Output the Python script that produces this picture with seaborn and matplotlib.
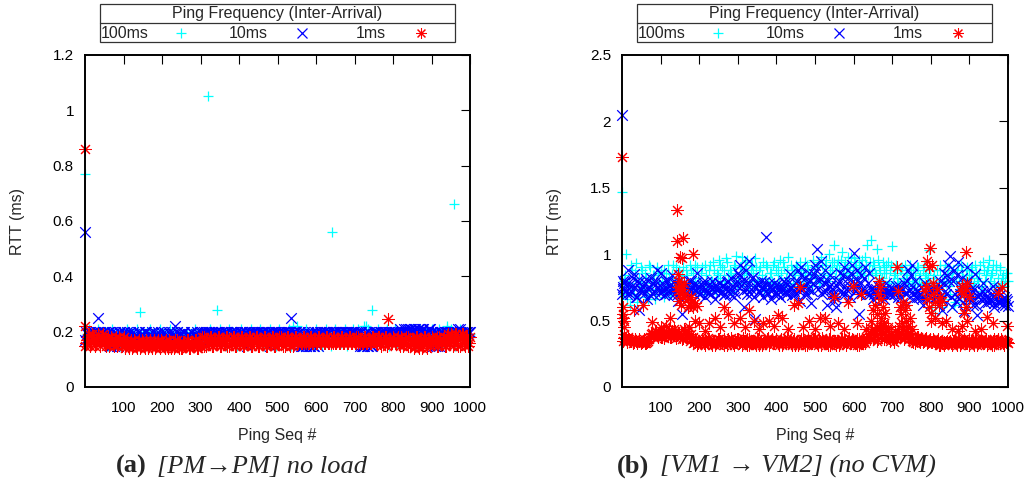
import matplotlib
matplotlib.use("Agg")
import matplotlib.pyplot as plt
import seaborn as sns
import pandas as pd
from matplotlib.lines import Line2D
from matplotlib.patches import Rectangle

# ---------------- data ----------------
seq = list(range(5, 1001, 5))      # sampled ping sequence numbers
seq_b = list(range(3, 1001, 5))    # second sample of sequence numbers
freq_labels = ["100ms", "10ms", "1ms"]

# Panel (a) [PM->PM] no load
a_100ms = [0.19, 0.21, 0.18, 0.20, 0.17, 0.19, 0.21, 0.16, 0.19, 0.18,
           0.20, 0.15, 0.19, 0.21, 0.18, 0.20, 0.17, 0.15, 0.20, 0.18,
           0.19, 0.21, 0.18, 0.20, 0.19, 0.17, 0.21, 0.18, 0.19, 0.20,
           0.18, 0.20, 0.19, 0.21, 0.17, 0.19, 0.20, 0.18, 0.21, 0.20,
           0.19, 0.18, 0.20, 0.21, 0.19, 0.18, 0.20, 0.19, 0.18, 0.20,
           0.19, 0.19, 0.20, 0.18, 0.19, 0.20, 0.21, 0.18, 0.19, 0.20,
           0.18, 0.20, 0.15, 0.19, 0.21, 0.18, 0.20, 0.16, 0.19, 0.21,
           0.20, 0.18, 0.15, 0.19, 0.21, 0.17, 0.20, 0.18, 0.15, 0.19,
           0.21, 0.18, 0.20, 0.15, 0.19, 0.21, 0.17, 0.20, 0.16, 0.19,
           0.21, 0.18, 0.15, 0.20, 0.19, 0.21, 0.17, 0.20, 0.15, 0.19,
           0.21, 0.18, 0.20, 0.16, 0.19, 0.21, 0.15, 0.20, 0.18, 0.22,
           0.19, 0.15, 0.20, 0.18, 0.21, 0.16, 0.19, 0.20, 0.15, 0.21,
           0.18, 0.20, 0.15, 0.19, 0.21, 0.17, 0.20, 0.15, 0.19, 0.21,
           0.18, 0.20, 0.16, 0.19, 0.21, 0.15, 0.20, 0.18, 0.21, 0.16,
           0.19, 0.21, 0.15, 0.20, 0.22, 0.18, 0.21, 0.16, 0.19, 0.20,
           0.15, 0.21, 0.18, 0.20, 0.16, 0.19, 0.21, 0.15, 0.20, 0.18,
           0.21, 0.16, 0.19, 0.20, 0.15, 0.21, 0.18, 0.20, 0.16, 0.21,
           0.19, 0.15, 0.20, 0.21, 0.18, 0.16, 0.20, 0.19, 0.15, 0.21,
           0.18, 0.20, 0.15, 0.21, 0.19, 0.16, 0.20, 0.22, 0.18, 0.21,
           0.19, 0.15, 0.20, 0.18, 0.21, 0.16, 0.19, 0.20, 0.17, 0.19]
a_10ms = [0.19, 0.20, 0.18, 0.20, 0.19, 0.20, 0.17, 0.20, 0.19, 0.20,
          0.19, 0.20, 0.15, 0.20, 0.15, 0.19, 0.15, 0.20, 0.19, 0.20,
          0.18, 0.20, 0.17, 0.19, 0.20, 0.18, 0.17, 0.20, 0.19, 0.18,
          0.20, 0.17, 0.19, 0.18, 0.20, 0.17, 0.19, 0.20, 0.18, 0.17,
          0.20, 0.18, 0.17, 0.19, 0.20, 0.18, 0.17, 0.20, 0.19, 0.17,
          0.20, 0.18, 0.17, 0.19, 0.20, 0.17, 0.18, 0.20, 0.19, 0.17,
          0.20, 0.19, 0.20, 0.20, 0.19, 0.20, 0.19, 0.20, 0.20, 0.19,
          0.20, 0.19, 0.20, 0.20, 0.19, 0.20, 0.20, 0.19, 0.20, 0.19,
          0.20, 0.19, 0.20, 0.15, 0.20, 0.19, 0.20, 0.20, 0.19, 0.20,
          0.19, 0.20, 0.20, 0.19, 0.20, 0.15, 0.20, 0.19, 0.20, 0.20,
          0.19, 0.20, 0.20, 0.19, 0.20, 0.20, 0.19, 0.20, 0.20, 0.19,
          0.20, 0.15, 0.15, 0.20, 0.15, 0.19, 0.15, 0.20, 0.15, 0.19,
          0.15, 0.20, 0.19, 0.20, 0.20, 0.19, 0.20, 0.19, 0.20, 0.20,
          0.19, 0.20, 0.20, 0.19, 0.20, 0.20, 0.19, 0.20, 0.20, 0.19,
          0.20, 0.19, 0.20, 0.15, 0.15, 0.20, 0.15, 0.19, 0.15, 0.20,
          0.20, 0.19, 0.20, 0.20, 0.19, 0.20, 0.19, 0.20, 0.20, 0.19,
          0.20, 0.19, 0.20, 0.20, 0.19, 0.20, 0.21, 0.20, 0.21, 0.20,
          0.21, 0.20, 0.21, 0.19, 0.21, 0.20, 0.19, 0.20, 0.21, 0.20,
          0.19, 0.15, 0.20, 0.15, 0.20, 0.19, 0.20, 0.20, 0.19, 0.20,
          0.20, 0.19, 0.20, 0.21, 0.20, 0.19, 0.20, 0.20, 0.19, 0.20]
a_10ms_2 = [0.20, 0.19, 0.20, 0.18, 0.20, 0.19, 0.20, 0.19, 0.18, 0.20,
            0.20, 0.19, 0.20, 0.15, 0.19, 0.20, 0.15, 0.20, 0.18, 0.20,
            0.17, 0.19, 0.18, 0.20, 0.17, 0.19, 0.18, 0.20, 0.17, 0.19,
            0.18, 0.20, 0.17, 0.19, 0.18, 0.20, 0.17, 0.19, 0.18, 0.20,
            0.17, 0.19, 0.18, 0.20, 0.17, 0.19, 0.18, 0.20, 0.17, 0.19,
            0.18, 0.20, 0.17, 0.19, 0.18, 0.20, 0.17, 0.19, 0.18, 0.20,
            0.19, 0.20, 0.20, 0.19, 0.20, 0.20, 0.19, 0.20, 0.19, 0.20,
            0.20, 0.19, 0.20, 0.20, 0.19, 0.20, 0.19, 0.20, 0.20, 0.19,
            0.20, 0.20, 0.19, 0.20, 0.19, 0.20, 0.20, 0.19, 0.20, 0.20,
            0.19, 0.20, 0.20, 0.19, 0.20, 0.20, 0.19, 0.20, 0.20, 0.19,
            0.20, 0.19, 0.20, 0.20, 0.19, 0.20, 0.20, 0.19, 0.20, 0.20,
            0.15, 0.20, 0.15, 0.19, 0.15, 0.20, 0.15, 0.19, 0.15, 0.20,
            0.20, 0.19, 0.20, 0.20, 0.19, 0.20, 0.20, 0.19, 0.20, 0.20,
            0.20, 0.19, 0.20, 0.20, 0.19, 0.20, 0.20, 0.19, 0.20, 0.20,
            0.19, 0.20, 0.15, 0.20, 0.15, 0.19, 0.15, 0.20, 0.15, 0.19,
            0.20, 0.20, 0.19, 0.20, 0.20, 0.19, 0.20, 0.20, 0.19, 0.20,
            0.20, 0.20, 0.19, 0.21, 0.20, 0.21, 0.20, 0.21, 0.20, 0.21,
            0.20, 0.21, 0.20, 0.21, 0.20, 0.21, 0.20, 0.20, 0.21, 0.20,
            0.15, 0.20, 0.15, 0.19, 0.20, 0.20, 0.19, 0.20, 0.20, 0.19,
            0.20, 0.20, 0.19, 0.20, 0.21, 0.20, 0.19, 0.20, 0.20, 0.20]
a_1ms = [0.17, 0.19, 0.16, 0.18, 0.15, 0.17, 0.19, 0.16, 0.18, 0.17,
         0.15, 0.18, 0.16, 0.17, 0.15, 0.18, 0.16, 0.17, 0.15, 0.18,
         0.15, 0.16, 0.14, 0.17, 0.15, 0.16, 0.14, 0.17, 0.15, 0.16,
         0.14, 0.16, 0.15, 0.17, 0.14, 0.16, 0.15, 0.17, 0.14, 0.16,
         0.15, 0.17, 0.14, 0.16, 0.15, 0.14, 0.17, 0.15, 0.16, 0.14,
         0.16, 0.15, 0.17, 0.14, 0.16, 0.15, 0.17, 0.14, 0.16, 0.15,
         0.18, 0.15, 0.17, 0.16, 0.18, 0.15, 0.17, 0.16, 0.18, 0.15,
         0.17, 0.16, 0.18, 0.15, 0.17, 0.16, 0.18, 0.15, 0.17, 0.16,
         0.18, 0.15, 0.17, 0.16, 0.18, 0.15, 0.17, 0.16, 0.18, 0.15,
         0.17, 0.16, 0.18, 0.15, 0.17, 0.16, 0.18, 0.15, 0.17, 0.16,
         0.18, 0.16, 0.17, 0.15, 0.18, 0.16, 0.17, 0.15, 0.18, 0.16,
         0.17, 0.16, 0.18, 0.16, 0.17, 0.16, 0.18, 0.16, 0.17, 0.16,
         0.18, 0.16, 0.17, 0.16, 0.18, 0.16, 0.17, 0.16, 0.18, 0.16,
         0.17, 0.16, 0.18, 0.16, 0.17, 0.16, 0.18, 0.16, 0.17, 0.16,
         0.18, 0.16, 0.17, 0.16, 0.18, 0.16, 0.17, 0.16, 0.18, 0.17,
         0.16, 0.18, 0.16, 0.17, 0.16, 0.18, 0.15, 0.17, 0.16, 0.18,
         0.16, 0.17, 0.16, 0.18, 0.15, 0.17, 0.16, 0.18, 0.15, 0.17,
         0.14, 0.18, 0.15, 0.17, 0.14, 0.18, 0.16, 0.17, 0.15, 0.18,
         0.16, 0.17, 0.15, 0.18, 0.16, 0.17, 0.15, 0.18, 0.16, 0.19,
         0.15, 0.19, 0.16, 0.18, 0.15, 0.19, 0.16, 0.18, 0.15, 0.18]
a_1ms_2 = [0.16, 0.18, 0.15, 0.19, 0.17, 0.16, 0.18, 0.15, 0.17, 0.19,
           0.16, 0.17, 0.15, 0.18, 0.16, 0.17, 0.15, 0.18, 0.16, 0.17,
           0.14, 0.17, 0.15, 0.16, 0.14, 0.17, 0.15, 0.16, 0.14, 0.17,
           0.15, 0.17, 0.14, 0.16, 0.15, 0.17, 0.14, 0.16, 0.15, 0.17,
           0.16, 0.14, 0.15, 0.17, 0.14, 0.16, 0.15, 0.17, 0.14, 0.16,
           0.14, 0.16, 0.15, 0.17, 0.14, 0.16, 0.15, 0.17, 0.14, 0.16,
           0.16, 0.18, 0.15, 0.17, 0.16, 0.18, 0.15, 0.17, 0.16, 0.18,
           0.15, 0.17, 0.16, 0.18, 0.15, 0.17, 0.16, 0.18, 0.15, 0.17,
           0.16, 0.18, 0.15, 0.17, 0.16, 0.18, 0.15, 0.17, 0.16, 0.18,
           0.15, 0.17, 0.16, 0.18, 0.15, 0.17, 0.16, 0.18, 0.15, 0.17,
           0.16, 0.18, 0.15, 0.17, 0.16, 0.18, 0.15, 0.17, 0.16, 0.18,
           0.16, 0.17, 0.16, 0.18, 0.16, 0.17, 0.16, 0.18, 0.16, 0.17,
           0.16, 0.18, 0.16, 0.17, 0.16, 0.18, 0.16, 0.17, 0.16, 0.18,
           0.16, 0.17, 0.16, 0.18, 0.16, 0.17, 0.16, 0.18, 0.16, 0.17,
           0.16, 0.18, 0.16, 0.17, 0.16, 0.18, 0.16, 0.17, 0.16, 0.18,
           0.17, 0.16, 0.18, 0.15, 0.17, 0.16, 0.18, 0.16, 0.17, 0.16,
           0.17, 0.16, 0.18, 0.15, 0.17, 0.16, 0.18, 0.15, 0.17, 0.16,
           0.17, 0.15, 0.18, 0.14, 0.17, 0.15, 0.18, 0.14, 0.17, 0.16,
           0.17, 0.16, 0.18, 0.15, 0.17, 0.16, 0.18, 0.15, 0.19, 0.16,
           0.18, 0.16, 0.19, 0.15, 0.18, 0.16, 0.19, 0.15, 0.18, 0.16]
a_100ms_out_seq = [1, 143, 260, 319, 343, 540, 641, 730, 745, 940, 958]
a_100ms_out_rtt = [0.77, 0.27, 0.19, 1.05, 0.28, 0.22, 0.56, 0.22, 0.28, 0.21, 0.66]
a_10ms_out_seq = [1, 1, 34, 235, 535]
a_10ms_out_rtt = [0.56, 0.17, 0.25, 0.22, 0.25]
a_1ms_out_seq = [1, 1, 1, 787]
a_1ms_out_rtt = [0.86, 0.22, 0.15, 0.245]

# Panel (b) [VM1 -> VM2] (no CVM)
b_100ms = [0.80, 1.00, 0.75, 0.62, 0.88, 0.70, 0.93, 0.64, 0.82, 0.90,
           0.76, 0.86, 0.68, 0.92, 0.74, 0.84, 0.66, 0.90, 0.78, 0.86,
           0.72, 0.88, 0.80, 0.92, 0.70, 0.85, 0.76, 0.90, 0.82, 0.74,
           0.84, 0.70, 0.88, 0.78, 0.92, 0.74, 0.86, 0.80, 0.90, 0.72,
           0.86, 0.76, 0.92, 0.72, 0.88, 0.80, 0.94, 0.74, 0.86, 0.96,
           0.82, 0.90, 0.76, 0.97, 0.84, 0.88, 0.72, 0.92, 0.99, 0.80,
           0.90, 0.98, 0.84, 0.88, 0.96, 0.76, 0.92, 0.86, 0.97, 0.80,
           0.88, 0.76, 0.94, 0.82, 0.90, 0.74, 0.86, 0.92, 0.78, 0.88,
           0.84, 0.96, 0.74, 0.90, 0.82, 0.98, 0.76, 0.88, 0.86, 0.92,
           0.80, 0.94, 0.76, 0.88, 0.84, 0.92, 0.72, 0.86, 0.96, 0.82,
           0.90, 0.78, 0.98, 0.84, 0.92, 0.80, 1.00, 0.86, 0.94, 1.07,
           0.88, 0.96, 0.82, 1.02, 0.90, 0.86, 0.98, 0.92, 0.84, 0.97,
           0.90, 0.86, 0.96, 0.92, 0.84, 0.98, 1.07, 0.88, 1.11, 0.94,
           0.86, 1.04, 0.90, 0.80, 0.94, 0.86, 0.92, 0.76, 0.88, 1.06,
           0.84, 0.92, 0.78, 0.88, 0.90, 0.82, 0.86, 0.76, 0.92, 0.80,
           0.86, 0.74, 0.90, 0.82, 0.78, 0.88, 0.84, 0.80, 1.03, 0.76,
           0.82, 0.56, 0.88, 0.74, 0.92, 0.60, 0.84, 0.78, 0.90, 0.70,
           0.86, 0.62, 0.80, 0.92, 0.74, 0.88, 0.68, 0.84, 0.90, 0.78,
           0.88, 0.76, 0.92, 0.82, 0.86, 0.72, 0.94, 0.80, 0.88, 0.96,
           0.84, 0.92, 0.78, 0.88, 0.74, 0.90, 0.82, 0.76, 0.86, 0.80]
b_100ms_2 = [0.70, 0.84, 0.66, 0.78, 0.92, 0.74, 0.86, 0.68, 0.80, 0.76,
             0.88, 0.72, 0.82, 0.66, 0.90, 0.78, 0.84, 0.70, 0.86, 0.74,
             0.80, 0.68, 0.86, 0.76, 0.82, 0.70, 0.92, 0.78, 0.74, 0.88,
             0.76, 0.90, 0.72, 0.84, 0.70, 0.88, 0.78, 0.92, 0.74, 0.82,
             0.78, 0.90, 0.70, 0.84, 0.76, 0.92, 0.80, 0.88, 0.72, 0.84,
             0.92, 0.76, 0.88, 0.80, 0.94, 0.78, 0.86, 0.82, 0.90, 0.76,
             0.82, 0.90, 0.78, 0.94, 0.86, 0.80, 0.88, 0.92, 0.76, 0.90,
             0.80, 0.90, 0.84, 0.72, 0.92, 0.78, 0.86, 0.80, 0.94, 0.76,
             0.90, 0.78, 0.86, 0.94, 0.76, 0.88, 0.82, 0.92, 0.78, 0.84,
             0.90, 0.76, 0.86, 0.80, 0.94, 0.78, 0.88, 0.82, 0.76, 0.90,
             0.84, 0.94, 0.80, 0.92, 0.86, 0.96, 0.82, 0.90, 0.88, 0.94,
             0.82, 0.92, 0.88, 0.96, 0.84, 0.94, 0.90, 0.86, 0.98, 0.88,
             0.94, 0.82, 0.90, 0.86, 0.96, 0.88, 0.92, 0.84, 0.94, 0.88,
             0.92, 0.84, 0.96, 0.88, 0.82, 0.90, 0.86, 0.94, 0.80, 0.92,
             0.78, 0.86, 0.82, 0.74, 0.88, 0.80, 0.92, 0.84, 0.78, 0.88,
             0.80, 0.86, 0.78, 0.90, 0.84, 0.76, 0.92, 0.86, 0.82, 0.88,
             0.60, 0.84, 0.78, 0.64, 0.88, 0.80, 0.66, 0.92, 0.84, 0.76,
             0.80, 0.88, 0.64, 0.86, 0.78, 0.92, 0.82, 0.74, 0.88, 0.84,
             0.82, 0.90, 0.78, 0.86, 0.80, 0.92, 0.76, 0.88, 0.84, 0.90,
             0.80, 0.86, 0.76, 0.92, 0.82, 0.88, 0.78, 0.84, 0.80, 0.86]
b_10ms = [0.78, 0.72, 0.88, 0.70, 0.76, 0.85, 0.68, 0.80, 0.58, 0.74,
          0.72, 0.78, 0.66, 0.75, 0.82, 0.70, 0.77, 0.88, 0.73, 0.86,
          0.74, 0.69, 0.80, 0.72, 0.76, 0.84, 0.70, 0.78, 0.65, 0.75,
          0.55, 0.72, 0.77, 0.68, 0.74, 0.80, 0.71, 0.76, 0.86, 0.70,
          0.74, 0.79, 0.68, 0.72, 0.77, 0.70, 0.75, 0.66, 0.73, 0.78,
          0.71, 0.76, 0.69, 0.74, 0.80, 0.70, 0.73, 0.68, 0.77, 0.86,
          0.92, 0.80, 0.60, 0.88, 0.74, 0.95, 0.70, 0.83, 0.51, 0.78,
          0.72, 0.80, 0.68, 0.75, 0.71, 0.78, 0.66, 0.74, 0.70, 0.77,
          0.73, 0.68, 0.76, 0.80, 0.70, 0.74, 0.85, 0.69, 0.72, 0.78,
          0.88, 0.65, 0.90, 0.74, 0.82, 0.70, 0.86, 0.63, 0.78, 0.92,
          1.04, 0.80, 0.95, 0.72, 0.88, 0.62, 0.76, 0.84, 0.70, 0.65,
          0.60, 0.78, 0.86, 0.70, 0.90, 0.74, 0.82, 0.68, 0.92, 1.01,
          0.76, 0.88, 0.55, 0.84, 0.72, 0.90, 0.70, 0.86, 0.74, 0.66,
          0.72, 0.68, 0.75, 0.70, 0.73, 0.66, 0.78, 0.71, 0.69, 0.74,
          0.70, 0.76, 0.68, 0.73, 0.62, 0.78, 0.70, 0.88, 0.74, 0.92,
          0.66, 0.80, 0.72, 0.68, 0.75, 0.62, 0.78, 0.70, 0.73, 0.67,
          0.72, 0.68, 0.74, 0.62, 0.80, 0.58, 0.86, 0.70, 0.92, 0.99,
          0.60, 0.88, 0.65, 0.94, 0.70, 0.82, 0.57, 0.76, 0.90, 0.66,
          0.74, 0.62, 0.85, 0.54, 0.70, 0.66, 0.78, 0.63, 0.72, 0.68,
          0.65, 0.76, 0.60, 0.70, 0.64, 0.74, 0.62, 0.68, 0.66, 0.61]
b_10ms_2 = [0.74, 0.80, 0.70, 0.77, 0.72, 0.82, 0.75, 0.68, 0.79, 0.73,
            0.76, 0.70, 0.81, 0.74, 0.69, 0.78, 0.72, 0.80, 0.75, 0.71,
            0.78, 0.73, 0.70, 0.80, 0.76, 0.72, 0.79, 0.74, 0.69, 0.77,
            0.72, 0.78, 0.74, 0.69, 0.80, 0.75, 0.71, 0.78, 0.73, 0.76,
            0.70, 0.77, 0.73, 0.79, 0.71, 0.75, 0.80, 0.72, 0.76, 0.74,
            0.78, 0.72, 0.76, 0.70, 0.79, 0.74, 0.82, 0.76, 0.71, 0.80,
            0.84, 0.76, 0.72, 0.80, 0.70, 0.78, 0.74, 0.82, 0.68, 0.75,
            0.77, 0.71, 0.75, 0.79, 0.72, 0.70, 0.76, 0.73, 0.78, 0.71,
            0.70, 0.76, 0.72, 0.74, 0.78, 0.71, 0.79, 0.75, 0.73, 0.70,
            0.80, 0.72, 0.84, 0.76, 0.70, 0.78, 0.74, 0.80, 0.72, 0.85,
            0.88, 0.74, 0.82, 0.70, 0.78, 0.72, 0.80, 0.76, 0.74, 0.70,
            0.68, 0.76, 0.80, 0.72, 0.84, 0.70, 0.78, 0.74, 0.86, 0.80,
            0.72, 0.80, 0.70, 0.78, 0.74, 0.82, 0.72, 0.78, 0.70, 0.74,
            0.70, 0.74, 0.71, 0.76, 0.72, 0.70, 0.74, 0.73, 0.72, 0.70,
            0.74, 0.70, 0.72, 0.76, 0.68, 0.74, 0.71, 0.80, 0.72, 0.84,
            0.70, 0.74, 0.68, 0.72, 0.70, 0.67, 0.73, 0.71, 0.69, 0.72,
            0.70, 0.74, 0.68, 0.72, 0.76, 0.66, 0.78, 0.72, 0.84, 0.80,
            0.68, 0.80, 0.70, 0.84, 0.66, 0.76, 0.64, 0.72, 0.80, 0.70,
            0.70, 0.66, 0.74, 0.62, 0.68, 0.70, 0.72, 0.66, 0.68, 0.64,
            0.66, 0.70, 0.63, 0.67, 0.65, 0.69, 0.64, 0.66, 0.62, 0.65]
b_1ms = [0.37, 0.36, 0.38, 0.35, 0.36, 0.34, 0.35, 0.33, 0.36, 0.34,
         0.35, 0.33, 0.34, 0.36, 0.40, 0.38, 0.42, 0.39, 0.41, 0.38,
         0.40, 0.37, 0.41, 0.39, 0.38, 0.42, 0.40, 0.37, 0.41, 0.38,
         0.36, 0.44, 0.38, 0.42, 0.35, 0.40, 0.33, 0.36, 0.32, 0.35,
         0.33, 0.35, 0.32, 0.34, 0.36, 0.33, 0.35, 0.32, 0.34, 0.36,
         0.33, 0.35, 0.32, 0.34, 0.36, 0.33, 0.35, 0.32, 0.34, 0.36,
         0.34, 0.32, 0.35, 0.33, 0.36, 0.32, 0.34, 0.35, 0.33, 0.36,
         0.32, 0.35, 0.33, 0.34, 0.36, 0.32, 0.35, 0.33, 0.34, 0.36,
         0.33, 0.35, 0.32, 0.36, 0.34, 0.33, 0.35, 0.32, 0.36, 0.34,
         0.32, 0.35, 0.33, 0.36, 0.34, 0.32, 0.35, 0.33, 0.36, 0.34,
         0.33, 0.36, 0.32, 0.35, 0.34, 0.33, 0.36, 0.32, 0.35, 0.34,
         0.32, 0.35, 0.33, 0.36, 0.34, 0.32, 0.35, 0.33, 0.36, 0.34,
         0.33, 0.36, 0.32, 0.35, 0.34, 0.33, 0.36, 0.38, 0.42, 0.36,
         0.40, 0.35, 0.44, 0.38, 0.46, 0.36, 0.42, 0.39, 0.35, 0.37,
         0.34, 0.36, 0.40, 0.38, 0.44, 0.36, 0.42, 0.38, 0.40, 0.35,
         0.36, 0.33, 0.38, 0.35, 0.37, 0.34, 0.36, 0.33, 0.35, 0.34,
         0.36, 0.33, 0.35, 0.32, 0.34, 0.33, 0.32, 0.34, 0.33, 0.35,
         0.32, 0.34, 0.33, 0.35, 0.32, 0.34, 0.36, 0.33, 0.35, 0.32,
         0.34, 0.33, 0.35, 0.32, 0.34, 0.36, 0.33, 0.35, 0.32, 0.34,
         0.33, 0.35, 0.32, 0.34, 0.36, 0.33, 0.35, 0.32, 0.34, 0.33]
b_1ms_2 = [0.35, 0.37, 0.34, 0.36, 0.35, 0.33, 0.36, 0.34, 0.35, 0.33,
           0.34, 0.36, 0.33, 0.35, 0.38, 0.41, 0.39, 0.42, 0.38, 0.40,
           0.38, 0.42, 0.39, 0.41, 0.43, 0.38, 0.40, 0.42, 0.39, 0.41,
           0.40, 0.37, 0.42, 0.38, 0.45, 0.36, 0.38, 0.34, 0.35, 0.33,
           0.34, 0.36, 0.33, 0.35, 0.37, 0.34, 0.32, 0.35, 0.33, 0.36,
           0.35, 0.33, 0.36, 0.34, 0.32, 0.35, 0.37, 0.33, 0.34, 0.36,
           0.33, 0.35, 0.37, 0.34, 0.32, 0.36, 0.33, 0.35, 0.34, 0.32,
           0.36, 0.34, 0.32, 0.35, 0.33, 0.37, 0.34, 0.36, 0.33, 0.35,
           0.34, 0.32, 0.36, 0.33, 0.35, 0.37, 0.34, 0.33, 0.35, 0.32,
           0.35, 0.33, 0.36, 0.34, 0.32, 0.35, 0.37, 0.34, 0.33, 0.36,
           0.34, 0.32, 0.35, 0.37, 0.33, 0.34, 0.32, 0.36, 0.34, 0.33,
           0.35, 0.34, 0.32, 0.36, 0.33, 0.35, 0.34, 0.37, 0.33, 0.35,
           0.34, 0.32, 0.36, 0.34, 0.33, 0.35, 0.37, 0.40, 0.36, 0.44,
           0.38, 0.42, 0.36, 0.45, 0.40, 0.48, 0.38, 0.44, 0.37, 0.40,
           0.36, 0.42, 0.38, 0.46, 0.40, 0.44, 0.38, 0.42, 0.36, 0.38,
           0.34, 0.37, 0.35, 0.38, 0.34, 0.36, 0.35, 0.37, 0.34, 0.36,
           0.34, 0.35, 0.33, 0.36, 0.32, 0.35, 0.34, 0.33, 0.35, 0.34,
           0.33, 0.35, 0.34, 0.32, 0.36, 0.33, 0.35, 0.34, 0.33, 0.36,
           0.35, 0.34, 0.32, 0.36, 0.33, 0.35, 0.34, 0.33, 0.36, 0.35,
           0.34, 0.32, 0.36, 0.35, 0.33, 0.34, 0.36, 0.33, 0.35, 0.34]
b_100ms_out_seq = [1]
b_100ms_out_rtt = [1.47]
b_10ms_out_seq = [1, 1, 2, 3, 373]
b_10ms_out_rtt = [2.05, 0.70, 0.80, 0.75, 1.13]
b_1ms_out_seq = [1, 2, 3, 4, 5, 6, 2, 30, 55, 77, 100, 115, 125, 135,
                 143, 142, 150, 155, 157, 145, 148, 152, 146, 150, 155, 158, 160, 148, 153, 144, 162,
                 170, 175, 180, 185, 178, 190, 195, 184, 188, 200, 172,
                 215, 225, 240, 255, 265, 275, 290, 305, 318, 330, 342, 355, 365, 380, 395, 405,
                 415, 430, 445, 455, 462, 470, 485, 500, 512, 525, 540, 550, 560, 575, 585, 598,
                 610, 620, 632,
                 645, 650, 655, 660, 662, 665, 668, 670, 672, 675, 678, 682, 688, 660, 670,
                 712, 716, 720, 724, 728, 732, 736, 740, 745, 750, 725, 735,
                 790, 795, 798, 802, 785, 790, 795, 800, 805, 810, 815, 820, 825, 830, 800, 812, 788, 805,
                 878, 882, 886, 890, 894, 891, 898, 885, 892, 895, 880,
                 915, 930, 945, 960, 975, 985, 997, 870, 855, 840, 830]
b_1ms_out_rtt = [1.73, 0.60, 0.55, 0.50, 0.45, 0.40, 0.52, 0.58, 0.62, 0.49, 0.45, 0.46, 0.52, 0.44,
                 1.33, 1.10, 0.98, 0.97, 1.12, 0.85, 0.80, 0.76, 0.72, 0.70, 0.74, 0.68, 0.78, 0.65, 0.62, 0.75, 0.70,
                 0.66, 0.62, 0.64, 0.60, 0.68, 0.63, 0.61, 1.00, 0.50, 0.48, 0.60,
                 0.42, 0.48, 0.52, 0.45, 0.60, 0.55, 0.48, 0.52, 0.45, 0.58, 0.50, 0.44, 0.48, 0.50, 0.46, 0.54,
                 0.52, 0.44, 0.62, 0.63, 0.75, 0.45, 0.50, 0.44, 0.52, 0.52, 0.46, 0.68, 0.48, 0.44, 0.64, 0.76,
                 0.48, 0.70, 0.44,
                 0.50, 0.58, 0.62, 0.55, 0.70, 0.80, 0.75, 0.66, 0.52, 0.60, 0.48, 0.56, 0.45, 0.45, 0.42,
                 0.90, 0.72, 0.60, 0.55, 0.64, 0.58, 0.50, 0.46, 0.52, 0.44, 0.48, 0.62,
                 0.95, 0.90, 1.05, 0.92, 0.72, 0.66, 0.60, 0.56, 0.70, 0.64, 0.74, 0.62, 0.68, 0.65, 0.50, 0.52, 0.76, 0.78,
                 0.72, 0.76, 0.70, 0.74, 0.78, 1.02, 0.68, 0.56, 0.60, 0.50, 0.46,
                 0.42, 0.44, 0.53, 0.48, 0.71, 0.75, 0.46, 0.42, 0.44, 0.50, 0.48]

a_yticks = [0, 0.2, 0.4, 0.6, 0.8, 1.0, 1.2]
a_yticklabels = ["0", "0.2", "0.4", "0.6", "0.8", "1", "1.2"]
b_yticks = [0, 0.5, 1.0, 1.5, 2.0, 2.5]
b_yticklabels = ["0", "0.5", "1", "1.5", "2", "2.5"]
xticks = [100, 200, 300, 400, 500, 600, 700, 800, 900, 1000]
xticklabels = ["100", "200", "300", "400", "500", "600", "700", "800", "900", "1000"]

# ---------------- styling ----------------
sns.set_style("white")
plt.rcParams["font.family"] = ["Liberation Sans", "DejaVu Sans"]

colors = ["#00FFFF", "#0000FF", "#FF0000"]
markers = ["+", "x", (8, 2, 0)]
widths = [0.9, 0.9, 0.75]
sizes = [62, 58, 74]

W, H = 1032, 483
fig = plt.figure(figsize=(W / 100, H / 100), dpi=100)


def px_box(x0, y0, x1, y1):
    return [x0 / W, 1 - y1 / H, (x1 - x0) / W, (y1 - y0) / H]


ax_a = fig.add_axes(px_box(85, 55, 470, 387))
ax_b = fig.add_axes(px_box(622, 55, 1008, 387))


def build(parts, label):
    s, r = [], []
    for xs, ys in parts:
        s += list(xs)
        r += list(ys)
    return pd.DataFrame({"seq": s, "rtt": r, "freq": label})


panels = [
    (ax_a, [build([(seq, a_100ms), (a_100ms_out_seq, a_100ms_out_rtt)], "100ms"),
            build([(seq, a_10ms), (seq_b, a_10ms_2), (a_10ms_out_seq, a_10ms_out_rtt)], "10ms"),
            build([(seq, a_1ms), (seq_b, a_1ms_2), (a_1ms_out_seq, a_1ms_out_rtt)], "1ms")],
     (0, 1.2), a_yticks, a_yticklabels),
    (ax_b, [build([(seq, b_100ms), (seq_b, b_100ms_2), (b_100ms_out_seq, b_100ms_out_rtt)], "100ms"),
            build([(seq, b_10ms), (seq_b, b_10ms_2), (b_10ms_out_seq, b_10ms_out_rtt)], "10ms"),
            build([(seq, b_1ms), (seq_b, b_1ms_2), (b_1ms_out_seq, b_1ms_out_rtt)], "1ms")],
     (0, 2.5), b_yticks, b_yticklabels),
]

for ax, dfs, ylim, yt, ytl in panels:
    for df, c, m, lw, sz in zip(dfs, colors, markers, widths, sizes):
        sns.scatterplot(data=df, x="seq", y="rtt", color=c, marker=m, s=sz,
                        linewidth=lw, ax=ax, legend=False, clip_on=False, zorder=3)
    ax.set_xlim(0, 1000)
    ax.set_ylim(*ylim)
    ax.set_xticks(xticks)
    ax.set_xticklabels(xticklabels)
    ax.set_yticks(yt)
    ax.set_yticklabels(ytl)
    ax.tick_params(direction="in", top=True, right=True, length=6.5, width=0.8,
                   labelsize=11, colors="black")
    ax.tick_params(axis="x", pad=10)
    ax.tick_params(axis="y", pad=8)
    for sp in ax.spines.values():
        sp.set_color("black")
        sp.set_linewidth(1.4)
        sp.set_zorder(4)
    ax.set_xlabel("Ping Seq #", fontsize=11.5, va="center")
    ax.set_ylabel("RTT (ms)", fontsize=11.5, va="center")
    ax.xaxis.set_label_coords(0.5, -0.145)
    ax.yaxis.set_label_coords(-0.175, 0.497)

# ---------------- gnuplot-style key boxes ----------------
def key_box(dx):
    x0, x1, y0, ysep, y1 = 100 + dx, 455 + dx, 4, 23, 42
    fig.add_artist(Rectangle((x0 / W, 1 - y1 / H), (x1 - x0) / W, (y1 - y0) / H,
                             transform=fig.transFigure, fill=False,
                             edgecolor="#333333", linewidth=0.9))
    fig.add_artist(Line2D([x0 / W, x1 / W], [1 - ysep / H, 1 - ysep / H],
                          transform=fig.transFigure, color="#333333", linewidth=0.9))
    fig.text((x0 + x1) / 2 / W, 1 - 13.5 / H, "Ping Frequency (Inter-Arrival)",
             ha="center", va="center", fontsize=11.5)
    label_right = [149, 268, 386]
    mark_x = [181, 302, 421]
    for lab, lr, mx, c, m, lw in zip(freq_labels, label_right, mark_x, colors, markers, widths):
        fig.text((lr + dx) / W, 1 - 33 / H, lab, ha="right", va="center", fontsize=11.5)
        fig.add_artist(Line2D([(mx + dx) / W], [1 - 33 / H], transform=fig.transFigure,
                              linestyle="none", marker=m, markersize=7.8, color=c,
                              markeredgewidth=lw))


key_box(0)
key_box(537)

# ---------------- sub-captions ----------------
cap_y = 1 - 473 / H
serif = ["Liberation Serif", "DejaVu Serif"]
fig.text(116 / W, cap_y, "(a)", ha="left", va="baseline", fontsize=19,
         fontweight="bold", family=serif)
fig.text(157 / W, cap_y, "[PM\u2192PM] no load", ha="left", va="baseline", fontsize=19,
         fontstyle="italic", family=serif)
fig.text(617 / W, cap_y, "(b)", ha="left", va="baseline", fontsize=19,
         fontweight="bold", family=serif)
fig.text(660 / W, cap_y, "[VM1 \u2192 VM2] (no CVM)", ha="left", va="baseline", fontsize=19,
         fontstyle="italic", family=serif)

fig.savefig("out.png", dpi=100)
